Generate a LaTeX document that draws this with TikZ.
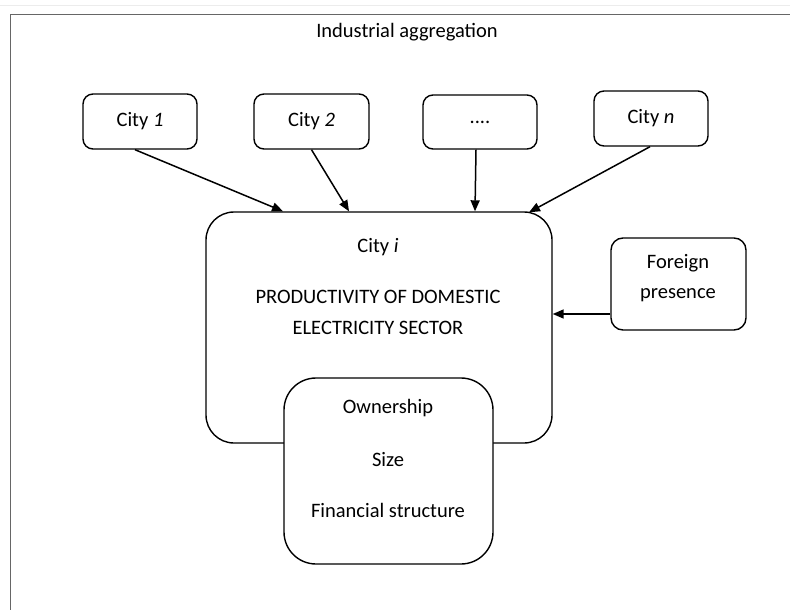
\documentclass[tikz,border=0pt]{standalone}
\usepackage{fontspec}
\setmainfont{Carlito}
\usetikzlibrary{arrows.meta,calc}
\begin{document}
\begin{tikzpicture}[x=1pt,y=-1pt,
  box/.style={draw=black, line width=1.4pt, fill=white, rectangle, inner sep=0pt},
  cbox/.style={box, rounded corners=10pt, minimum width=114pt, minimum height=55pt},
  txt/.style={inner sep=0pt, font=\fontsize{20.5}{24}\selectfont},
  arr/.style={line width=1.5pt, -{Triangle[length=11pt,width=9pt]}}]
\useasboundingbox (0,0) rectangle (790,610);
\fill[white] (0,0) rectangle (790,610);
\draw[gray!15, line width=1pt] (0,6) -- (790,6);
\draw[gray!80!black, line width=1pt] (10,612) -- (10,15) -- (792,15);
\node[txt] (title) at (407,32) {Industrial aggregation};
% city boxes
\node[cbox, txt, minimum width=114pt, minimum height=55pt] (c1) at (140,121.5) {City \textit{1}};
\node[cbox, txt, minimum width=115pt, minimum height=55pt] (c2) at (311.5,121.5) {City \textit{2}};
\node[cbox, txt, minimum width=114pt, minimum height=54pt] (cd) at (480,122) {....};
\node[cbox, txt, minimum width=114pt, minimum height=55pt] (cn) at (651,118.5) {City \textit{n}};
% main box
\node[box, rounded corners=28pt, minimum width=346pt, minimum height=231pt] (main) at (379,327.5) {};
\node[txt] (ci) at (378,247) {City \textit{i}};
\node[txt] (prod1) at (378,297) {PRODUCTIVITY OF DOMESTIC};
\node[txt] (prod2) at (378,328) {ELECTRICITY SECTOR};
% ownership box
\node[box, rounded corners=32pt, minimum width=209pt, minimum height=186pt] (own) at (388.5,471) {};
\node[txt] (o1) at (388,408) {Ownership};
\node[txt] (o2) at (388,460) {Size};
\node[txt] (o3) at (388,510) {Financial structure};
% foreign
\node[box, rounded corners=12pt, minimum width=135pt, minimum height=92pt] (fp) at (678.5,284) {};
\node[txt] (f1) at (678,263) {Foreign};
\node[txt] (f2) at (678,295) {presence};
% arrows
\draw[arr] ([xshift=-5pt]c1.south) -- ([xshift=-96pt]main.north);
\draw[arr] (c2.south) -- ([xshift=-30pt]main.north);
\draw[arr] ([xshift=-4pt]cd.south) -- ([xshift=96pt]main.north);
\draw[arr] ([xshift=-1pt]cn.south) -- ([xshift=150pt,yshift=-1pt]main.north);
\coordinate (fa) at ([yshift=-30pt]fp.west);
\draw[arr] (fa) -- (fa -| main.east);
\end{tikzpicture}
\end{document}
